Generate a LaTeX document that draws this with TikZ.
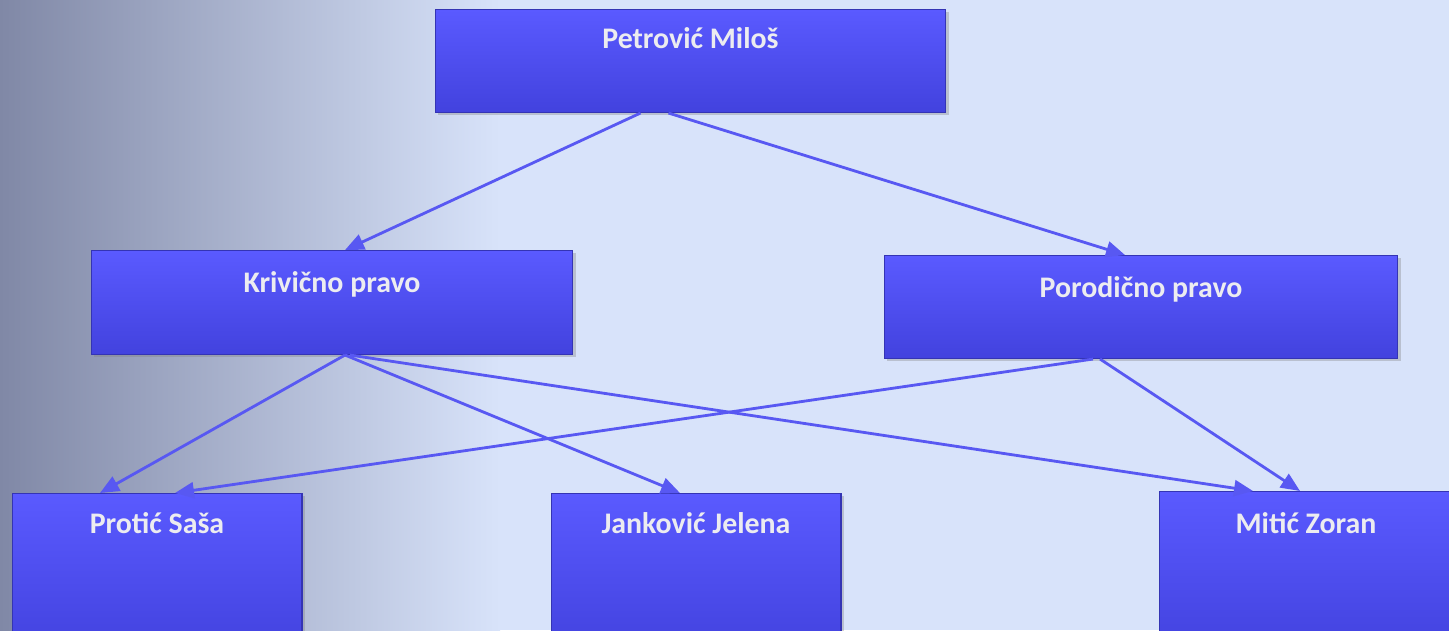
\documentclass[tikz,border=0pt]{standalone}
\usepackage{fontspec}
\setmainfont{Carlito}
\definecolor{BgBlue}{HTML}{D8E3FA}
\definecolor{PhotoGray}{HTML}{8088A6}
\definecolor{PhotoMid}{HTML}{B4BCDA}
\definecolor{BoxTop}{HTML}{5A5AFF}
\definecolor{BoxBottom}{HTML}{4242DE}
\definecolor{BoxEdge}{HTML}{3434B4}
\definecolor{LinkBlue}{HTML}{5858F2}
\definecolor{NameText}{HTML}{ECECF0}
\usepackage{tikz}
\usetikzlibrary{arrows.meta,shadows}

\begin{document}
\begin{tikzpicture}[
    x=0.02cm, y=-0.02cm,
    box/.style={
        draw=BoxEdge,
        line width=0.6pt,
        top color=BoxTop,
        bottom color=BoxBottom,
        drop shadow={opacity=0.35,shadow xshift=1.5pt,shadow yshift=-1.5pt},
        anchor=north,
        inner xsep=0pt,
        inner ysep=0pt,
        align=center,
        text=NameText,
        font=\fontsize{17}{20}\selectfont\bfseries
    },
    arr/.style={
        -{Triangle[length=0.38cm,width=0.32cm]},
        draw=LinkBlue,
        line width=1.6pt
    }
]

% ---------------------------------------------------------
% Pozadina
% ---------------------------------------------------------

\useasboundingbox (0,0) rectangle (1449,630);
\fill[BgBlue] (0,0) rectangle (1449,630);
\shade[left color=PhotoGray, middle color=PhotoMid, right color=BgBlue]
(0,0) rectangle (500,630);

% ---------------------------------------------------------
% Osobe i oblasti prava
% ---------------------------------------------------------

\node[box, minimum width=10.22cm, text height=0.78cm, text depth=1.28cm]
(petrovic) at (690.5,9) {Petrović Miloš};

\node[box, minimum width=9.64cm, text height=0.84cm, text depth=1.24cm]
(krivicno) at (332,250) {Krivično pravo};

\node[box, minimum width=10.28cm, text height=0.84cm, text depth=1.22cm]
(porodicno) at (1141,255) {Porodično pravo};

\node[box, minimum width=5.8cm, text height=0.8cm, text depth=2.4cm]
(protic) at (157,493) {Protić Saša};

\node[box, minimum width=5.8cm, text height=0.8cm, text depth=2.4cm]
(jankovic) at (696,493) {Janković Jelena};

\node[box, minimum width=5.88cm, text height=0.84cm, text depth=2.4cm]
(mitic) at (1306,491) {Mitić Zoran};

% ---------------------------------------------------------
% Veze
% ---------------------------------------------------------

\draw[arr] ([xshift=-1.0cm]petrovic.south) -- ([xshift=0.26cm]krivicno.north);
\draw[arr] ([xshift=-0.44cm]petrovic.south) -- ([xshift=-0.32cm]porodicno.north);

\draw[arr] ([xshift=0.26cm]krivicno.south) -- ([xshift=-1.14cm]protic.north);
\draw[arr] ([xshift=0.26cm]krivicno.south) -- ([xshift=-0.32cm]jankovic.north);
\draw[arr] ([xshift=0.36cm]krivicno.south) -- ([xshift=-1.06cm]mitic.north);

\draw[arr] ([xshift=-0.96cm]porodicno.south) -- ([xshift=0.36cm]protic.north);
\draw[arr] ([xshift=-0.82cm]porodicno.south) -- ([xshift=-0.12cm]mitic.north);

\end{tikzpicture}
\end{document}
